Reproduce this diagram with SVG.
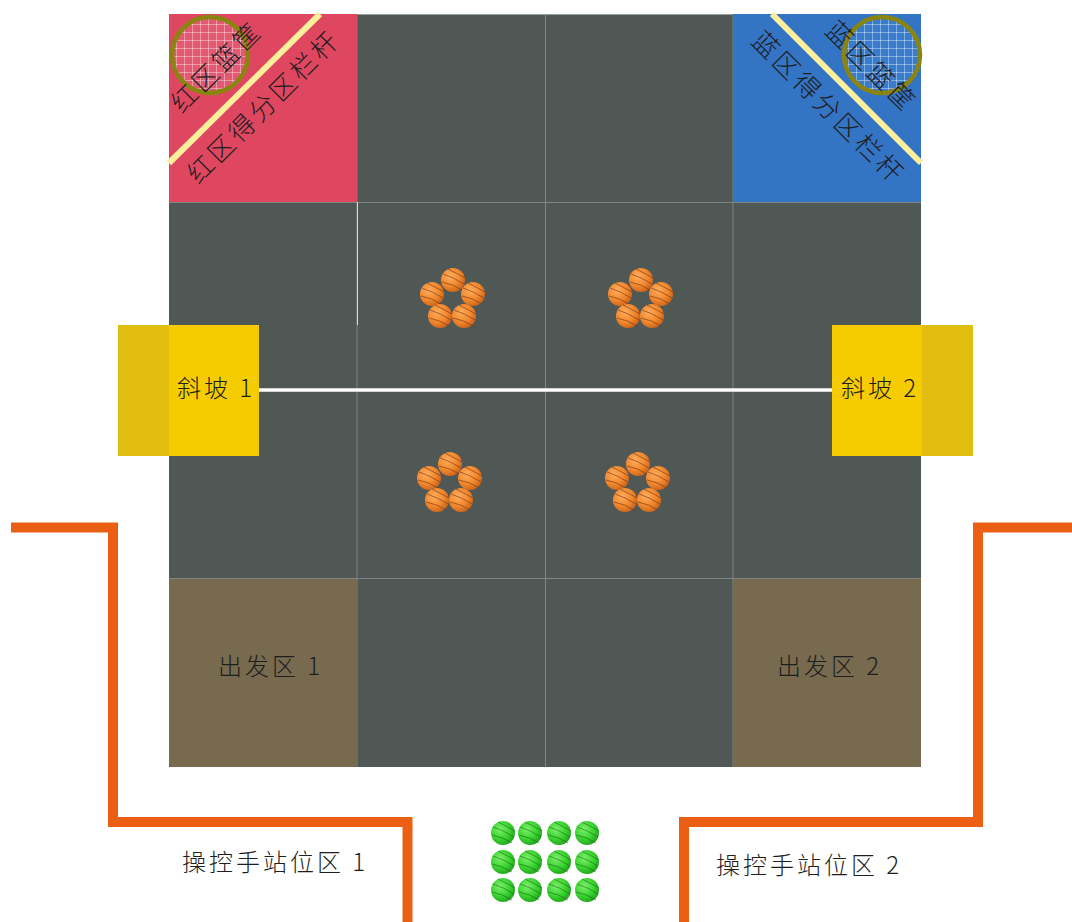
<svg xmlns="http://www.w3.org/2000/svg" width="1072" height="922" viewBox="0 0 1072 922">
  <style>
    .cell { fill: #505856; }
    .grid { stroke: #7e8583; stroke-width: 1; }
    .lbl { font-family: "Noto Sans CJK SC", "DejaVu Sans", sans-serif; font-weight: 300; fill: #1e1e1e; }
    .big { font-size: 24px; letter-spacing: 3px; }
    .diag { font-size: 26px; letter-spacing: 3px; }
    .wall { fill: none; stroke: #ea5f14; stroke-width: 10; stroke-linejoin: miter; }
    .net { stroke: #ffffff; stroke-opacity: 0.75; stroke-width: 1; }
    .rail { stroke: #fbef9b; stroke-width: 6; }
    .hoop { fill: none; stroke: #8a8410; stroke-width: 4.5; }
  </style>
  <defs>
    <radialGradient id="orangeGrad" cx="0.38" cy="0.35" r="0.7">
      <stop offset="0" stop-color="#ffad5c"/>
      <stop offset="0.6" stop-color="#f0872d"/>
      <stop offset="1" stop-color="#c9611a"/>
    </radialGradient>
    <radialGradient id="greenGrad" cx="0.38" cy="0.35" r="0.7">
      <stop offset="0" stop-color="#7cf06a"/>
      <stop offset="0.6" stop-color="#38d22e"/>
      <stop offset="1" stop-color="#22a01c"/>
    </radialGradient>
    <symbol id="ballOrange" viewBox="-13 -13 26 26" width="26" height="26" overflow="visible">
      <circle r="12" fill="url(#orangeGrad)"/>
      <g fill="none" stroke="#7a3410" stroke-width="0.8" stroke-opacity="0.8">
        <path d="M-10 -6 Q0 -3 11 4"/>
        <path d="M-11 2 Q0 4 9 10"/>
        <path d="M-5 -11 Q5 -6 12 -2"/>
      </g>
    </symbol>
    <symbol id="ballGreen" viewBox="-13 -13 26 26" width="26" height="26" overflow="visible">
      <circle r="12" fill="url(#greenGrad)"/>
      <g fill="none" stroke="#17601a" stroke-width="0.8" stroke-opacity="0.7">
        <path d="M-10 -6 Q0 -3 11 4"/>
        <path d="M-11 2 Q0 4 9 10"/>
        <path d="M-5 -11 Q5 -6 12 -2"/>
      </g>
    </symbol>
    <g id="pentagon">
      <use href="#ballOrange" x="-13" y="-13" transform="translate(0 -18)"/>
      <use href="#ballOrange" x="-13" y="-13" transform="translate(-21 -4)"/>
      <use href="#ballOrange" x="-13" y="-13" transform="translate(20 -4)"/>
      <use href="#ballOrange" x="-13" y="-13" transform="translate(-13 18)"/>
      <use href="#ballOrange" x="-13" y="-13" transform="translate(11 18)"/>
    </g>
    <pattern id="netGrid" width="8" height="8" patternUnits="userSpaceOnUse">
      <path d="M0 0 H8 M0 0 V8" class="net"/>
    </pattern>
    <clipPath id="clipRed"><circle cx="210" cy="55" r="37"/></clipPath>
    <clipPath id="clipBlue"><circle cx="882" cy="55" r="37"/></clipPath>
  </defs>

  <rect width="1072" height="922" fill="#ffffff"/>

  <!-- playing field: 4 x 4 cells -->
  <g id="field">
    <rect class="cell" x="169" y="14" width="752" height="753"/>
    <line x1="169" y1="14.5" x2="921" y2="14.5" stroke="#9aa09e" stroke-width="1"/>
    <g class="grid">
      <line x1="357" y1="14" x2="357" y2="767"/>
      <line x1="545.5" y1="14" x2="545.5" y2="767"/>
      <line x1="733" y1="14" x2="733" y2="767"/>
      <line x1="169" y1="202.5" x2="921" y2="202.5"/>
      <line x1="169" y1="578.5" x2="921" y2="578.5"/>
    </g>
    <line x1="357.5" y1="202" x2="357.5" y2="325" stroke="#d8dcdb" stroke-width="1"/>
  </g>

  <!-- red scoring corner -->
  <g id="red-zone">
    <rect x="169" y="14" width="188" height="188" fill="#df4760"/>
    <g clip-path="url(#clipRed)">
      <rect x="170" y="15" width="80" height="80" fill="#e25a72"/>
      <rect x="170" y="15" width="80" height="80" fill="url(#netGrid)"/>
    </g>
    <circle class="hoop" cx="210" cy="55" r="38"/>
    <line class="rail" x1="169" y1="163" x2="320" y2="14"/>
    <text class="lbl diag" transform="translate(215 65) rotate(-45)" text-anchor="middle" dominant-baseline="central">红区篮筐</text>
    <text class="lbl diag" transform="translate(262 105) rotate(-45)" text-anchor="middle" dominant-baseline="central">红区得分区栏杆</text>
  </g>

  <!-- blue scoring corner -->
  <g id="blue-zone">
    <rect x="733" y="14" width="188" height="188" fill="#3474c4"/>
    <g clip-path="url(#clipBlue)">
      <rect x="842" y="15" width="80" height="80" fill="#3a7ccc"/>
      <rect x="842" y="15" width="80" height="80" fill="url(#netGrid)"/>
    </g>
    <circle class="hoop" cx="882" cy="55" r="38"/>
    <line class="rail" x1="772" y1="14" x2="921" y2="163"/>
    <text class="lbl diag" transform="translate(873 65) rotate(45)" text-anchor="middle" dominant-baseline="central">蓝区篮筐</text>
    <text class="lbl diag" transform="translate(830 106) rotate(45)" text-anchor="middle" dominant-baseline="central">蓝区得分区栏杆</text>
  </g>

  <!-- centre line -->
  <g id="centre-line">
    <line x1="258" y1="390" x2="833" y2="390" stroke="#ffffff" stroke-width="3.5"/>
  </g>

  <!-- ramps -->
  <g id="ramp-1">
    <rect x="118" y="325" width="51" height="131" fill="#e0bd10"/>
    <rect x="169" y="325" width="90" height="131" fill="#f5cc00"/>
    <text class="lbl big" x="177" y="397">斜坡 1</text>
  </g>
  <g id="ramp-2">
    <rect x="832" y="325" width="90" height="131" fill="#f5cc00"/>
    <rect x="922" y="325" width="51" height="131" fill="#e0bd10"/>
    <text class="lbl big" x="841" y="397">斜坡 2</text>
  </g>

  <!-- start zones -->
  <g id="start-1">
    <rect x="169" y="579" width="188" height="188" fill="#776a4e"/>
    <text class="lbl big" x="218" y="675">出发区 1</text>
  </g>
  <g id="start-2">
    <rect x="733" y="579" width="188" height="188" fill="#776a4e"/>
    <text class="lbl big" x="777" y="675">出发区 2</text>
  </g>

  <!-- orange ball groups -->
  <g id="balls-a"><use href="#pentagon" transform="translate(453 298)"/></g>
  <g id="balls-b"><use href="#pentagon" transform="translate(641 298)"/></g>
  <g id="balls-c"><use href="#pentagon" transform="translate(450 482)"/></g>
  <g id="balls-d"><use href="#pentagon" transform="translate(638 482)"/></g>

  <!-- operator areas -->
  <g id="operator-1">
    <path class="wall" d="M11 527.5 H113 V822 H407.5 V922"/>
    <text class="lbl big" x="182" y="871">操控手站位区 1</text>
  </g>
  <g id="operator-2">
    <path class="wall" d="M1072 527.5 H978 V822 H684 V922"/>
    <text class="lbl big" x="716" y="874">操控手站位区 2</text>
  </g>

  <!-- green ball reserve -->
  <g id="green-balls">
    <use href="#ballGreen" x="490" y="820"/>
    <use href="#ballGreen" x="517" y="820"/>
    <use href="#ballGreen" x="546" y="820"/>
    <use href="#ballGreen" x="574" y="820"/>
    <use href="#ballGreen" x="490" y="849"/>
    <use href="#ballGreen" x="517" y="849"/>
    <use href="#ballGreen" x="546" y="849"/>
    <use href="#ballGreen" x="574" y="849"/>
    <use href="#ballGreen" x="490" y="877"/>
    <use href="#ballGreen" x="517" y="877"/>
    <use href="#ballGreen" x="546" y="877"/>
    <use href="#ballGreen" x="574" y="877"/>
  </g>
</svg>
